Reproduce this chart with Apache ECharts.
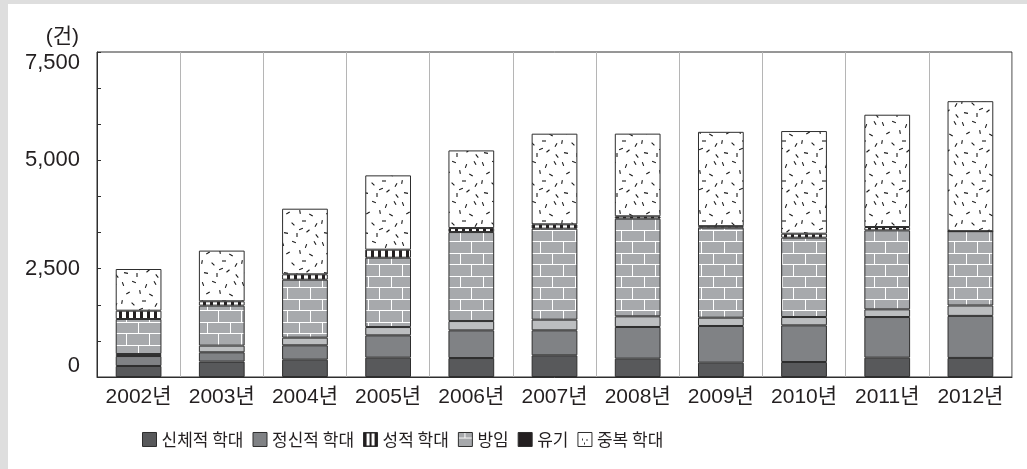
<!DOCTYPE html>
<html lang="ko">
<head>
<meta charset="utf-8">
<title>아동학대 유형별 현황 (2002~2012년)</title>
<script src="https://cdn.jsdelivr.net/npm/echarts@6/dist/echarts.min.js"></script>
<style>
  html, body { margin: 0; padding: 0; background: #fff; }
  #chart {
    width: 1027px; height: 469px;
    background: #fff;
    box-shadow: inset 8px 4px 0 #dedede;
  }
</style>
</head>
<body>
<div id="chart"></div>
<script>
// ---- data (건) ----
const years = ['2002년', '2003년', '2004년', '2005년', '2006년', '2007년', '2008년', '2009년', '2010년', '2011년', '2012년'];
const seriesNames = ['신체적 학대', '정신적 학대', '성적 학대', '방임', '유기', '중복 학대'];
const physical  = [254, 355, 400, 446, 438, 500, 423, 331, 346, 446, 440];
const emotional = [230, 215, 331, 515, 638, 577, 731, 846, 846, 938, 970];
const sexual    = [46, 154, 177, 192, 215, 246, 246, 192, 192, 177, 240];
const neglect   = [808, 923, 1338, 1600, 2054, 2100, 2254, 2077, 1831, 1823, 1715];
const abandon   = [192, 100, 123, 185, 92, 100, 54, 35, 92, 77, 0];
const multiple  = [962, 1170, 1515, 1715, 1792, 2092, 1908, 2177, 2369, 2592, 3000];
const yMax = 7500;
const yStep = 2500;
const yUnit = '(건)';

// ---- fill textures ----
function tile(w, h, draw) {
  const c = document.createElement('canvas');
  c.width = w; c.height = h;
  draw(c.getContext('2d'), w, h);
  return c;
}
const INK = '#231f20';
const LINE = '#2e2e2e';

// brick wall: grey blocks with white mortar
const brickTile = tile(23, 23, (g, w, h) => {
  g.fillStyle = '#a7a9ac'; g.fillRect(0, 0, w, h);
  g.fillStyle = '#fff';
  g.fillRect(0, 0, w, 1);
  g.fillRect(0, 11, w, 1);
  g.fillRect(0, 0, 1, 11);
  g.fillRect(11, 11, 1, 12);
});
// black / white vertical blocks
const stripeTile = tile(7, 8, (g, w, h) => {
  g.fillStyle = '#fff'; g.fillRect(0, 0, w, h);
  g.fillStyle = INK; g.fillRect(0, 0, 3, h);
});
// white ground scattered with short dashes
const dashMarks = [
  [3, 4, 70], [14, 2, 20], [26, 6, 110], [35, 3, 60], [8, 13, 150], [20, 12, 80],
  [31, 15, 30], [2, 22, 100], [13, 24, 45], [24, 21, 0], [36, 25, 120], [6, 33, 10],
  [17, 35, 90], [28, 31, 140], [37, 36, 50], [21, 29, 160]
];
const dashTile = tile(40, 40, (g) => {
  g.fillStyle = '#fff'; g.fillRect(0, 0, 40, 40);
  g.strokeStyle = '#1a1a1a'; g.lineWidth = 1.1; g.lineCap = 'butt';
  dashMarks.forEach(([x, y, a]) => {
    const r = a * Math.PI / 180, dx = Math.cos(r) * 2, dy = Math.sin(r) * 2;
    g.beginPath(); g.moveTo(x - dx, y - dy); g.lineTo(x + dx, y + dy); g.stroke();
  });
});
// legend swatches
const legendStripe = tile(14, 14, (g) => {
  g.fillStyle = INK; g.fillRect(0, 0, 14, 14);
  g.fillStyle = '#fff'; g.fillRect(3, 1, 3, 12); g.fillRect(8, 1, 3, 12);
});
const legendBrick = tile(14, 14, (g) => {
  g.fillStyle = '#a7a9ac'; g.fillRect(0, 0, 14, 14);
  g.fillStyle = '#fff'; g.fillRect(0, 5, 14, 1); g.fillRect(6, 0, 1, 5);
});
const legendDash = tile(14, 14, (g) => {
  g.fillStyle = '#fff'; g.fillRect(0, 0, 14, 14);
  g.fillStyle = '#333';
  g.fillRect(4, 6, 1, 2); g.fillRect(8, 7, 2, 1); g.fillRect(6, 10, 1, 2);
});
const pat = (img) => ({ image: img, repeat: 'repeat' });

const barFills = ['#58595b', '#808285', '#bcbec0', pat(brickTile), pat(stripeTile), pat(dashTile)];
const legendFills = ['#58595b', '#808285', pat(legendStripe), pat(legendBrick), INK, pat(legendDash)];
const values = [physical, emotional, sexual, neglect, abandon, multiple];

const LATIN = "'Liberation Sans', 'Noto Sans CJK KR', sans-serif";
const KR = "'Noto Sans CJK KR', sans-serif";

const chart = echarts.init(document.getElementById('chart'), null, { renderer: 'canvas' });
chart.setOption({
  animation: false,
  backgroundColor: 'transparent',
  grid: {
    left: 97, right: 15, top: 52, bottom: 92,
    show: true, borderColor: LINE, borderWidth: 1, backgroundColor: 'transparent'
  },
  legend: {
    left: 137, top: 426,
    itemWidth: 14, itemHeight: 14, itemGap: 9,
    icon: 'rect',
    textStyle: { fontFamily: KR, fontSize: 17, color: INK },
    data: seriesNames.map((n, i) => ({
      name: n,
      itemStyle: { color: legendFills[i], borderColor: LINE, borderWidth: 1 }
    }))
  },
  xAxis: {
    type: 'category',
    data: years,
    axisLine: { lineStyle: { color: LINE, width: 1 } },
    axisTick: { show: false },
    splitLine: { show: true, lineStyle: { color: '#b5b5b5', width: 1 } },
    axisLabel: { interval: 0, margin: 10, fontFamily: LATIN, fontSize: 21, color: INK }
  },
  yAxis: {
    type: 'value',
    min: 0, max: yMax, interval: yStep,
    name: yUnit,
    nameLocation: 'end',
    nameGap: 15,
    nameTextStyle: { fontFamily: LATIN, fontSize: 21, color: INK, align: 'right', verticalAlign: 'middle', padding: [0, 18, 0, 0] },
    axisLine: { show: true, lineStyle: { color: LINE, width: 1 } },
    axisTick: { show: true, inside: true, length: 4, lineStyle: { color: LINE } },
    minorTick: { show: true, splitNumber: 3, length: 4, lineStyle: { color: LINE } },
    splitLine: { show: false },
    axisLabel: {
      margin: 17, fontFamily: LATIN, fontSize: 22, color: INK,
      verticalAlignMinLabel: 'bottom', verticalAlignMaxLabel: 'top',
      formatter: (v) => v.toLocaleString('en-US')
    }
  },
  series: seriesNames.map((n, i) => ({
    name: n,
    type: 'bar',
    stack: 'total',
    barWidth: '55%',
    data: values[i],
    itemStyle: { color: barFills[i], borderColor: LINE, borderWidth: 1 },
    emphasis: { disabled: true }
  }))
});
</script>
</body>
</html>
